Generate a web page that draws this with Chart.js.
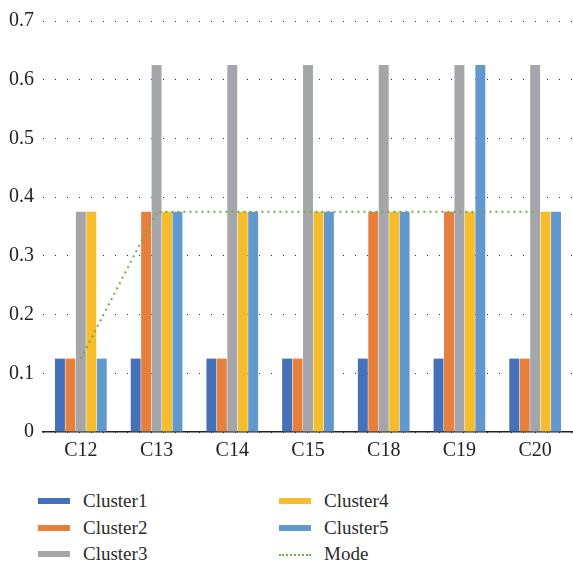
<!DOCTYPE html>
<html>
<head>
<meta charset="utf-8">
<script src="https://cdn.jsdelivr.net/npm/chart.js@4/dist/chart.umd.min.js"></script>
<style>
  html, body { margin: 0; padding: 0; background: #fff; }
  #wrap { position: relative; width: 573px; height: 564px; }
  #box { position: absolute; left: 0; top: 0; width: 573px; height: 470px; }
  #legend { position: absolute; left: 0; top: 488px; width: 573px; height: 80px;
    font-family: "Liberation Serif", "DejaVu Serif", serif; font-size: 19px; color: #2a2a2a; }
  .item { position: absolute; height: 26px; line-height: 26px; }
  .sw { position: absolute; top: 10px; left: 0; width: 32px; height: 6px; }
  .sw.dot { height: 0; top: 13px; border-top: 2px dotted #70AD47; background: none; }
  .lbl { position: absolute; left: 45px; top: 0; white-space: nowrap; }
</style>
</head>
<body>
<div id="wrap">
  <div id="box"><canvas id="c"></canvas></div>
  <div id="legend"></div>
</div>
<script>
const categories = ["C12", "C13", "C14", "C15", "C18", "C19", "C20"];
const cluster1 = [0.125, 0.125, 0.125, 0.125, 0.125, 0.125, 0.125];
const cluster2 = [0.125, 0.375, 0.125, 0.125, 0.375, 0.375, 0.125];
const cluster3 = [0.375, 0.625, 0.625, 0.625, 0.625, 0.625, 0.625];
const cluster4 = [0.375, 0.375, 0.375, 0.375, 0.375, 0.375, 0.375];
const cluster5 = [0.125, 0.375, 0.375, 0.375, 0.375, 0.625, 0.375];
const mode     = [0.125, 0.375, 0.375, 0.375, 0.375, 0.375, 0.375];

const serif = "'Liberation Serif', 'DejaVu Serif', serif";

function bar(label, data, color) {
  return { type: 'bar', label, data, backgroundColor: color, borderWidth: 0,
           categoryPercentage: 0.69, barPercentage: 0.95, order: 2 };
}

const datasets = [
  bar('Cluster1', cluster1, '#4571BA'),
  bar('Cluster2', cluster2, '#E77F3D'),
  bar('Cluster3', cluster3, '#A5A6A9'),
  bar('Cluster4', cluster4, '#F5BC2B'),
  bar('Cluster5', cluster5, '#6198CD'),
  { type: 'line', label: 'Mode', data: mode, borderColor: '#70AD47', borderWidth: 2,
    borderDash: [2, 4], pointRadius: 0, fill: false, tension: 0, order: 0 }
];

new Chart(document.getElementById('c'), {
  data: { labels: categories, datasets },
  options: {
    responsive: true,
    maintainAspectRatio: false,
    animation: false,
    layout: { padding: { left: 0, right: 0, top: 3, bottom: 0 } },
    plugins: { legend: { display: false }, tooltip: { enabled: false } },
    scales: {
      x: {
        grid: { display: false, drawTicks: false },
        border: { display: true, color: '#222', width: 1.5 },
        ticks: { color: '#222', font: { family: serif, size: 20 }, padding: 7 }
      },
      y: {
        min: 0, max: 0.7,
        grid: { color: '#333', lineWidth: 1, drawTicks: false },
        border: { display: false, dash: [1, 11] },
        ticks: { stepSize: 0.1, color: '#222', font: { family: serif, size: 20 }, padding: 9,
                 callback: v => Math.round(v * 10) / 10 }
      }
    }
  }
});

// Two-column legend below the chart
const legend = document.getElementById('legend');
datasets.forEach((ds, i) => {
  const col = i < 3 ? 0 : 1;
  const row = i % 3;
  const item = document.createElement('div');
  item.className = 'item';
  item.style.left = (col === 0 ? 38 : 279) + 'px';
  item.style.top = (row * 26.5) + 'px';
  const sw = document.createElement('div');
  sw.className = ds.type === 'line' ? 'sw dot' : 'sw';
  if (ds.type !== 'line') sw.style.background = ds.backgroundColor;
  const lbl = document.createElement('div');
  lbl.className = 'lbl';
  lbl.textContent = ds.label;
  item.appendChild(sw);
  item.appendChild(lbl);
  legend.appendChild(item);
});
</script>
</body>
</html>
